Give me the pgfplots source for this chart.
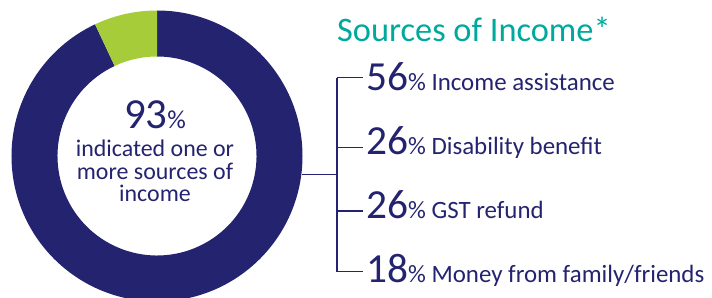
\documentclass[border=0pt]{standalone}
\usepackage{pgfplots}
\usepackage{pgfplotstable}
\pgfplotsset{compat=1.18}
\usepackage{fontspec}
\setmainfont{Carlito}
\definecolor{navy}{HTML}{24236F}
\definecolor{lime}{HTML}{A6CD39}
\definecolor{teal}{HTML}{00A99D}

\pgfplotstableread{
label value
yes 93
no 7
}\donut
\pgfplotstablegetelem{0}{value}\of\donut
\let\vyes\pgfplotsretval
\pgfmathsetmacro\angEnd{90-3.6*\vyes}
\pgfmathsetmacro\angGreen{90+3.6*(100-\vyes)}

\newcommand\row[2]{{\fontsize{41.5}{41.5}\selectfont #1}{\fontsize{25}{25}\selectfont\%\ #2}}

\begin{document}
\begin{tikzpicture}
\begin{axis}[x=1bp,y=1bp,xmin=0,xmax=712,ymin=0,ymax=298,
  hide axis,scale only axis,clip=true,anchor=south west,at={(0,0)}]
% donut
\fill[navy] (axis cs:157,142) ++(90:145.5bp)
   arc[start angle=90,end angle=\angEnd,radius=145.5bp]
   -- ++(\angEnd:-46bp)
   arc[start angle=\angEnd,end angle=90,radius=99.5bp] -- cycle;
\fill[lime] (axis cs:157,142) ++(90:145.5bp)
   arc[start angle=90,end angle=\angGreen,radius=145.5bp]
   -- ++(\angGreen:-46bp)
   arc[start angle=\angGreen,end angle=90,radius=99.5bp] -- cycle;
% connector lines
\addplot[navy,line width=1.5bp] coordinates {(302,123.7) (337,123.7)};
\addplot[navy,line width=1.5bp] coordinates {(337,220.3) (337,26.3)};
\addplot[navy,line width=1.5bp] coordinates {(337,220.3) (363,220.3)};
\addplot[navy,line width=1.5bp] coordinates {(337,150.7) (363,150.7)};
\addplot[navy,line width=1.5bp] coordinates {(337,87) (363,87)};
\addplot[navy,line width=1.5bp] coordinates {(337,26.3) (363,26.3)};
% centre text
\node[anchor=base,inner sep=0,text=navy] at (axis cs:155,170)
  {{\fontsize{43}{43}\selectfont 93}{\fontsize{26}{26}\selectfont\%}};
\node[anchor=base,inner sep=0,text=navy,font=\fontsize{24}{24}\selectfont] at (axis cs:155,142) {indicated one or};
\node[anchor=base,inner sep=0,text=navy,font=\fontsize{24}{24}\selectfont] at (axis cs:155,119) {more sources of};
\node[anchor=base,inner sep=0,text=navy,font=\fontsize{24}{24}\selectfont] at (axis cs:155,97) {income};
% title
\node[anchor=base west,inner sep=0,text=teal,font=\fontsize{34.5}{34.5}\selectfont] at (axis cs:337,256.3) {Sources of Income*};
% rows
\node[anchor=base west,inner sep=0,text=navy] at (axis cs:366,208) {\row{56}{Income assistance}};
\node[anchor=base west,inner sep=0,text=navy] at (axis cs:366,144) {\row{26}{Disability benefit}};
\node[anchor=base west,inner sep=0,text=navy] at (axis cs:366,80) {\row{26}{GST refund}};
\node[anchor=base west,inner sep=0,text=navy] at (axis cs:366,16) {\row{18}{Money from family/friends}};
\end{axis}
\pgfresetboundingbox
\path[use as bounding box] (0,0) rectangle (712bp,298bp);
\end{tikzpicture}
\end{document}
